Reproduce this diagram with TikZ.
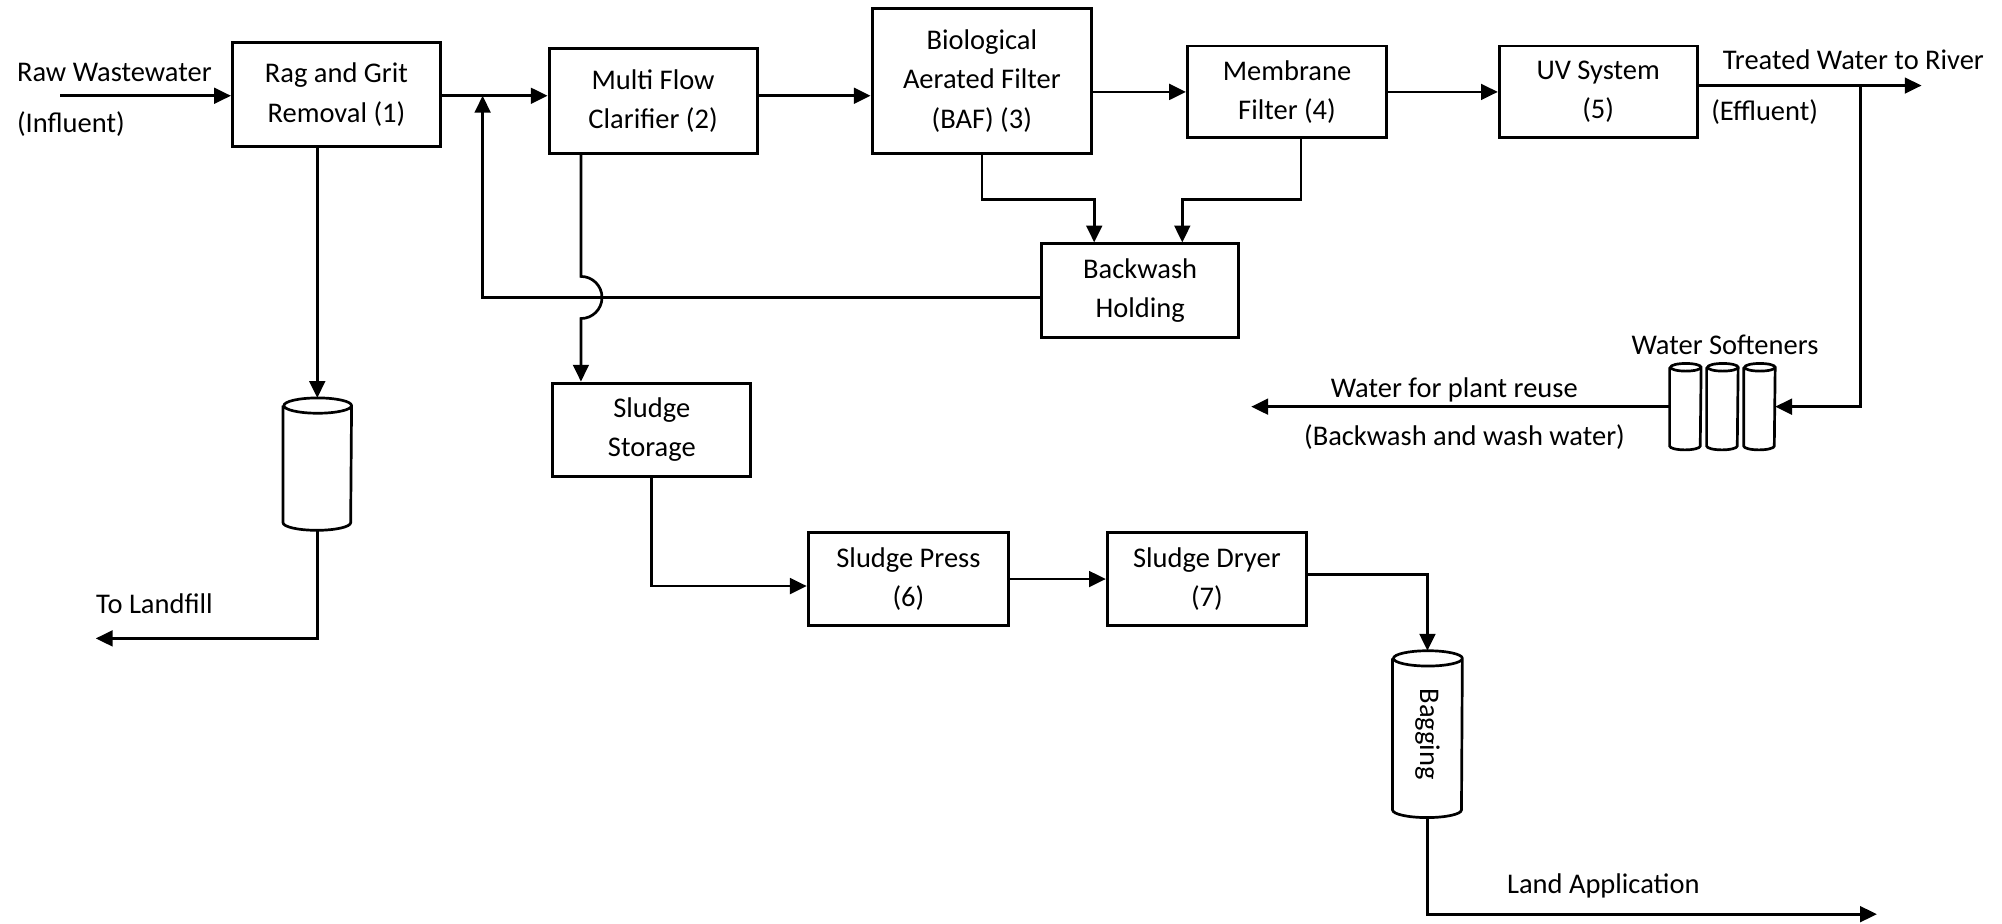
\documentclass[tikz,border=0pt]{standalone}
\usepackage{fontspec}
\setmainfont{Carlito}
\usetikzlibrary{positioning, shapes.geometric, arrows.meta, calc}

% outline of a vertical tank round a named node: #1 node, #2 x radius, #3 y radius
\newcommand{\tankshape}[3]{%
  \draw[line width=1.2pt] ([yshift=-#3]#1.north west) -- ([yshift=#3]#1.south west)
    arc[start angle=180, end angle=360, x radius=#2, y radius=#3]
    -- ([yshift=-#3]#1.north east)
    arc[start angle=0, end angle=180, x radius=#2, y radius=#3]
    arc[start angle=180, end angle=360, x radius=#2, y radius=#3];}

\begin{document}
\begin{tikzpicture}[
            x=0.02cm, y=-0.02cm,
            every node/.style={align=center, inner sep=0pt, font=\fontsize{12.7}{17.6}\selectfont},
            box/.style={draw, rectangle, line width=1.3pt},
            tank/.style={rectangle},
            arrow/.style={-{Triangle[length=7.5pt,width=7pt]}, line width=1.2pt}
          ]

        \useasboundingbox (0,0) rectangle (1568,723);

        % process units
        \node[box, minimum width=3.26cm, minimum height=1.64cm] (rag) at (263.5,74) {Rag and Grit\\Removal (1)};
        \node[box, minimum width=3.26cm, minimum height=1.64cm] (clar) at (511.5,79) {Multi Flow\\Clarifier (2)};
        \node[box, minimum width=3.44cm, minimum height=2.26cm] (baf) at (769,63.5) {Biological\\Aerated Filter\\(BAF) (3)};
        \node[box, minimum width=3.12cm, minimum height=1.44cm] (memb) at (1008,72) {Membrane\\Filter (4)};
        \node[box, minimum width=3.10cm, minimum height=1.44cm, right=1.72cm of memb] (uv) {UV System\\(5)};
        \node[box, minimum width=3.08cm, minimum height=1.46cm] (hold) at (893,227.5) {Backwash\\Holding};
        \node[box, minimum width=3.10cm, minimum height=1.46cm] (store) at (510.5,336.5) {Sludge\\Storage};
        \node[box, minimum width=3.14cm, minimum height=1.46cm] (press) at (711.5,453.5) {Sludge Press\\(6)};
        \node[box, minimum width=3.12cm, minimum height=1.46cm, right=1.5cm of press] (dryer) {Sludge Dryer\\(7)};

        % tanks
        \node[tank, minimum width=1.06cm, minimum height=2.06cm] (fill) at (248.5,363.5) {};
        \node[tank, minimum width=1.08cm, minimum height=2.6cm] (bag) at (1118,575) {\rotatebox{-90}{Bagging}};
        \node[tank, minimum width=0.48cm, minimum height=1.34cm] (soft1) at (1320,318.5) {};
        \node[tank, minimum width=0.48cm, minimum height=1.34cm] (soft2) at (1349,318.5) {};
        \node[tank, minimum width=0.48cm, minimum height=1.34cm] (soft3) at (1378,318.5) {};
        \tankshape{fill}{0.53cm}{0.12cm}
        \tankshape{bag}{0.54cm}{0.12cm}
        \tankshape{soft1}{0.24cm}{0.06cm}
        \tankshape{soft2}{0.24cm}{0.06cm}
        \tankshape{soft3}{0.24cm}{0.06cm}

        % labels
        \node[anchor=west] (raw) at (13,57) {Raw Wastewater};
        \node[anchor=west] (infl) at (13,97) {(Influent)};
        \node[anchor=west] (river) at (1349,47) {Treated Water to River};
        \node[anchor=west] (effl) at (1340,88) {(Effluent)};
        \node (softlbl) at (1351,270) {Water Softeners};
        \node (reuse) at (1139,305) {Water for plant reuse};
        \node (wash) at (1147,342) {(Backwash and wash water)};
        \node[anchor=west] (landfill) at (75,473) {To Landfill};
        \node[anchor=west] (landapp) at (1180,694) {Land Application};

        \coordinate (in) at (47,75);
        \coordinate (out) at (1505,67);
        \coordinate (split) at (1457,67);
        \coordinate (reuseend) at (980,322);
        \coordinate (fillend) at (75,500);
        \coordinate (append) at (1470,716);
        \coordinate (ret) at (378,233);
        \coordinate (sl) at (455,0);

        % main line
        \draw[arrow] (in) -- (in -| rag.west);
        \draw[arrow] (rag.east |- in) -- (clar.west |- in);
        \draw[arrow] (clar.east |- in) -- (baf.west |- in);
        \draw[arrow] (baf.east |- memb.west) -- (memb.west);
        \draw[arrow] (memb) -- (uv);
        \draw[arrow] (uv.east |- out) -- (out);
        \draw[arrow] (split) |- (soft3.east);
        \draw[arrow] (soft1.west) -- (reuseend |- soft1.west);

        % backwash
        \draw[arrow] (baf.south) -- ++(0,35) -| ([xshift=-0.72cm]hold.north);
        \draw[arrow] ([xshift=0.22cm]memb.south) -- ++(0,47) -| ([xshift=0.66cm]hold.north);
        \draw[arrow] (hold.west |- ret) -- (ret) -- (ret |- in);

        % solids
        \draw[arrow] (fill.north |- rag.south) -- (fill.north);
        \draw[arrow] (fill.south) |- (fillend);
        \draw[arrow] (clar.south -| sl) -- ($(sl |- ret)+(0,-16.5)$)
            arc[start angle=90, end angle=-90, radius=0.33cm] -- (store.north -| sl);
        \draw[arrow] (store.south) |- ([yshift=-0.11cm]press.west);
        \draw[arrow] (press) -- (dryer);
        \draw[arrow] ([yshift=0.07cm]dryer.east) -| (bag.north);
        \draw[arrow] (bag.south) |- (append);

\end{tikzpicture}
\end{document}
